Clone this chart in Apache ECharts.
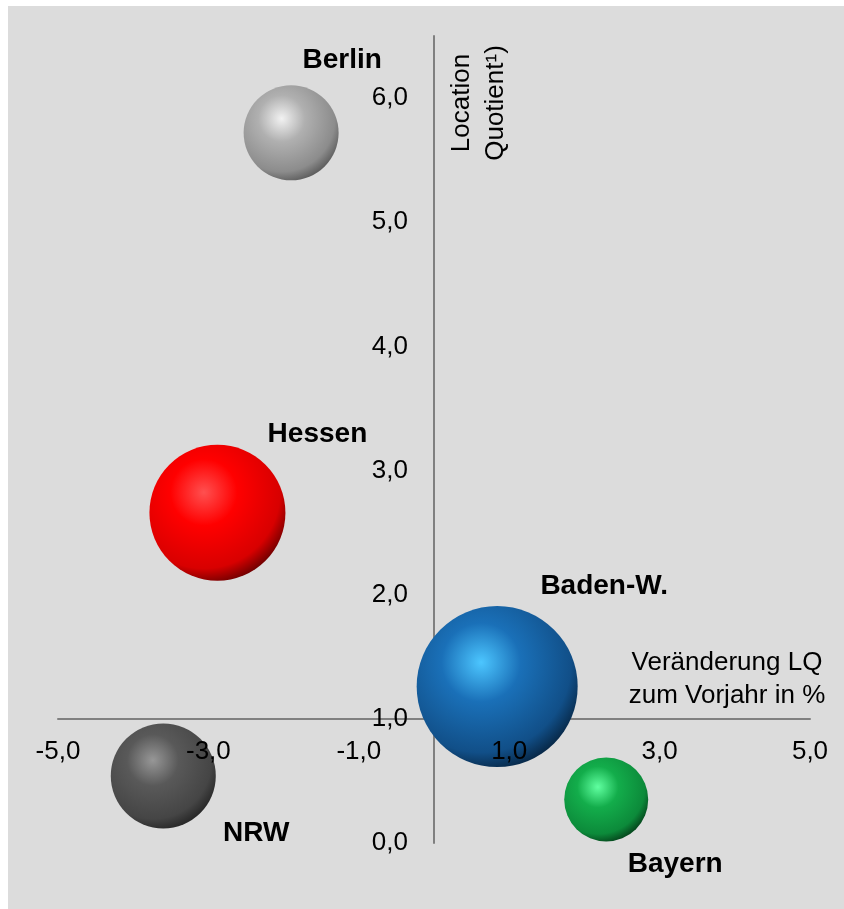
<!DOCTYPE html>
<html>
<head>
<meta charset="utf-8">
<script src="https://cdn.jsdelivr.net/npm/echarts@6/dist/echarts.min.js"></script>
<style>
  html, body { margin: 0; padding: 0; background: #ffffff; }
  #chart { position: absolute; left: 8px; top: 6px; width: 836px; height: 903px; }
</style>
</head>
<body>
<div id="chart"></div>
<script>
// ---- data ----
const categories = ['Berlin', 'Hessen', 'Baden-W.', 'NRW', 'Bayern'];
const changeLQ = [-1.90, -2.88, 0.84, -3.60, 2.29];          // Veränderung LQ zum Vorjahr in %
const locationQuotient = [5.72, 2.66, 1.26, 0.54, 0.35];      // Location Quotient
const bubbleSize = [95, 136, 161, 105, 84];                   // bubble weight
const xAxisName = 'Veränderung LQ\nzum Vorjahr in %';
const yAxisName = 'Location\nQuotient¹)';

// ---- styles / layout (not data) ----
const sphereColors = [
  ['#f2f2f2', '#b0b0b0', '#8c8c8c', '#555555'],
  ['#ff5050', '#ff0000', '#d80000', '#600000'],
  ['#4cc6ff', '#1a70b8', '#114f88', '#06223d'],
  ['#979797', '#595959', '#454545', '#222222'],
  ['#60ffa0', '#13ad4b', '#0c8a3a', '#043a17']
];
const labelOffsets = [[51, -73], [100, -78], [107, -100], [93, 57], [69, 65]];

const X_MIN = -5, X_MAX = 5, X_INT = 2, Y_CROSS = 0;
const Y_MIN = 0, Y_MAX = 6.5, Y_INT = 1, X_CROSS = 1;
const GRID = { left: 50, right: 34, top: 30, bottom: 66 };
const FONT = '"Liberation Sans", Arial, sans-serif';

const chartEl = document.getElementById('chart');
const chart = echarts.init(chartEl, null, { renderer: 'canvas' });
const gridH = chartEl.clientHeight - GRID.top - GRID.bottom;
const gridW = chartEl.clientWidth - GRID.left - GRID.right;
const xOffset = -((X_CROSS - Y_MIN) / (Y_MAX - Y_MIN)) * gridH;
const yOffset = -((Y_CROSS - X_MIN) / (X_MAX - X_MIN)) * gridW;

const fmt = v => v.toFixed(1).replace('.', ',');

function sphere(c) {
  return {
    type: 'radial', x: 0.4, y: 0.35, r: 0.7,
    colorStops: [
      { offset: 0, color: c[0] },
      { offset: 0.35, color: c[1] },
      { offset: 0.8, color: c[2] },
      { offset: 1, color: c[3] }
    ]
  };
}

const seriesData = categories.map((name, i) => ({
  name: name,
  value: [changeLQ[i], locationQuotient[i], bubbleSize[i]],
  itemStyle: { color: sphere(sphereColors[i]), opacity: 1 },
  label: { offset: labelOffsets[i] }
}));

function xAx(idx) {
  const lineOnly = idx === 0;
  return {
    type: 'value', min: X_MIN, max: X_MAX, interval: X_INT,
    position: 'bottom', offset: xOffset, z: lineOnly ? 0 : 6,
    axisLine: { show: true, onZero: false, lineStyle: { color: '#808080', width: 2, opacity: lineOnly ? 1 : 0 } },
    axisTick: { show: false },
    splitLine: { show: false },
    axisLabel: { show: !lineOnly, formatter: fmt, color: '#000', fontSize: 26, fontFamily: FONT, margin: 20 }
  };
}
function yAx(idx) {
  const lineOnly = idx === 0;
  return {
    type: 'value', min: Y_MIN, max: Y_MAX, interval: Y_INT,
    position: 'left', offset: yOffset, z: lineOnly ? 0 : 6,
    axisLine: { show: true, onZero: false, lineStyle: { color: '#808080', width: 2, opacity: lineOnly ? 1 : 0 } },
    axisTick: { show: false },
    splitLine: { show: false },
    axisLabel: { show: !lineOnly, formatter: fmt, color: '#000', fontSize: 26, fontFamily: FONT, margin: 26, showMaxLabel: false }
  };
}

chart.setOption({
  backgroundColor: '#dcdcdc',
  animation: false,
  grid: { left: GRID.left, right: GRID.right, top: GRID.top, bottom: GRID.bottom, containLabel: false, outerBoundsMode: 'none' },
  xAxis: [xAx(0), xAx(1)],
  yAxis: [yAx(0), yAx(1)],
  series: [{
    type: 'scatter',
    xAxisIndex: 0, yAxisIndex: 0, z: 2,
    symbol: 'circle',
    symbolSize: v => v[2],
    itemStyle: { opacity: 1 },
    data: seriesData,
    label: {
      show: true, position: 'inside', formatter: p => p.name,
      color: '#000000', opacity: 1, textBorderWidth: 0,
      fontSize: 28, fontWeight: 'bold', fontFamily: FONT
    },
    emphasis: { disabled: true }
  }],
  graphic: [
    {
      type: 'text', x: 471, y: 97, rotation: Math.PI / 2, z: 10,
      style: {
        text: yAxisName, fill: '#000', font: '26px ' + FONT,
        align: 'center', verticalAlign: 'middle', lineHeight: 34
      }
    },
    {
      type: 'text', x: 719, y: 673, z: 10,
      style: {
        text: xAxisName, fill: '#000', font: '26px ' + FONT,
        align: 'center', verticalAlign: 'middle', lineHeight: 33
      }
    }
  ]
});
</script>
</body>
</html>
